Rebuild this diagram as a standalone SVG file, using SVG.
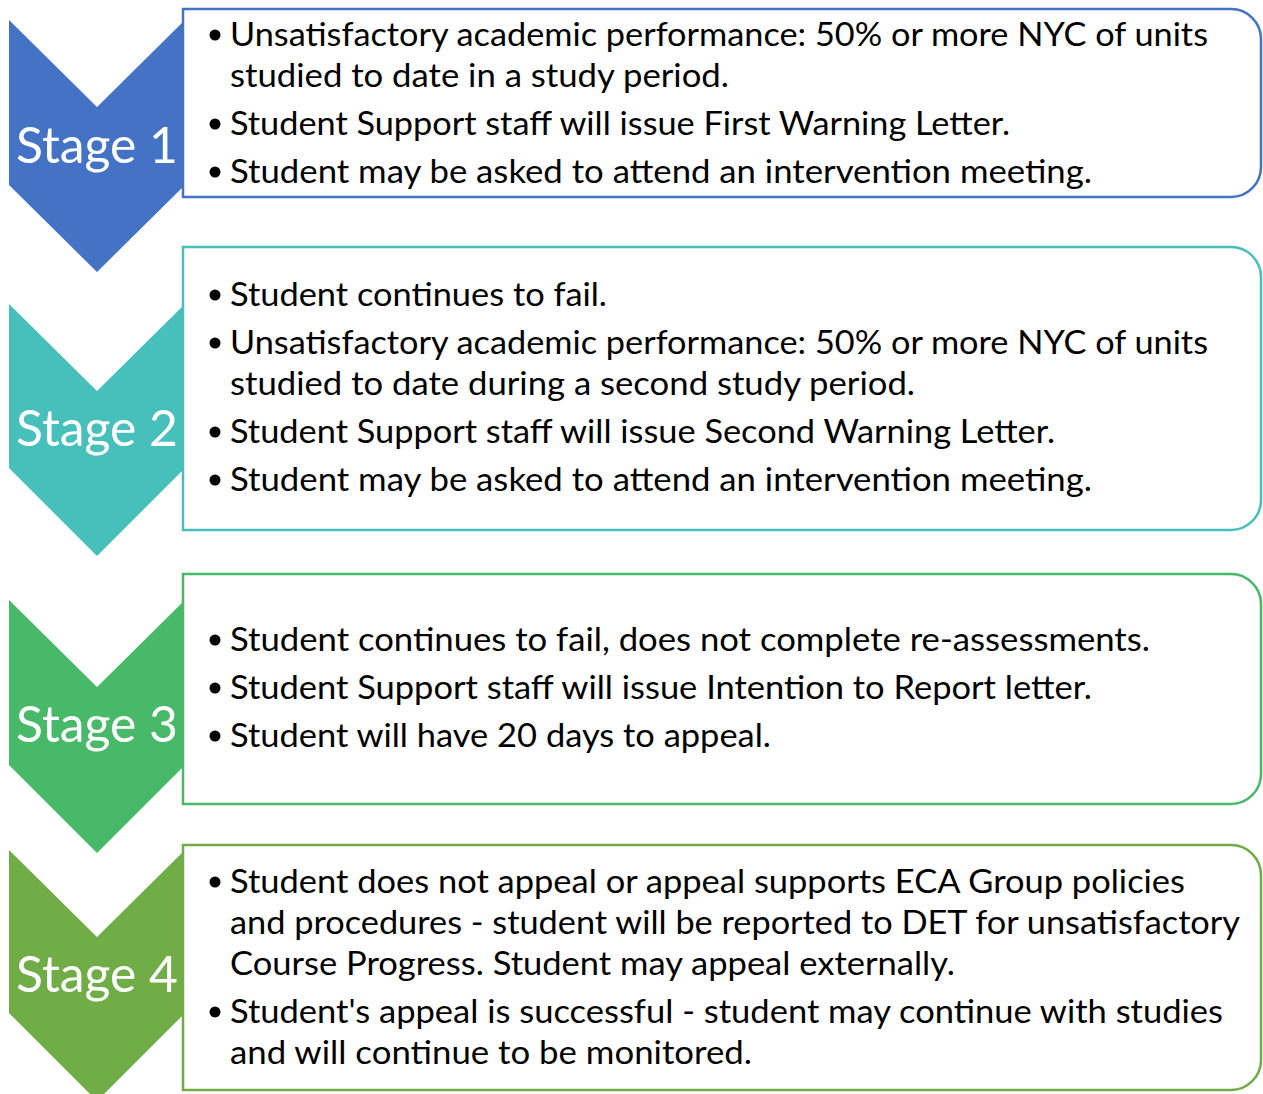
<svg xmlns="http://www.w3.org/2000/svg" width="1263" height="1094" viewBox="0 0 1263 1094">
<style>
.t{font-family:Lato,"Open Sans","Liberation Sans",sans-serif;font-size:33px;fill:#000}
.s{font-family:Lato,"Open Sans","Liberation Sans",sans-serif;font-size:50px;fill:#fff}
.box{fill:#fff;stroke-width:2.5}
.dot{fill:#000}
</style>
<rect width="1263" height="1094" fill="#fff"/>
<g id="stage1">
<polygon points="9,20 97,107 185,20 185,185 97,272 9,185" fill="#4472C4"/>
<path class="box" stroke="#4472C4" d="M183,9 H1231 A30,30 0 0 1 1261,39 V167 A30,30 0 0 1 1231,197 H183 Z"/>
<text class="s" x="16" y="163" textLength="162" lengthAdjust="spacingAndGlyphs">Stage 1</text>
<circle class="dot" cx="215" cy="35" r="5.5"/>
<text class="t" x="230" y="46" textLength="978" lengthAdjust="spacingAndGlyphs">Unsatisfactory academic performance: 50% or more NYC of units</text>
<text class="t" x="230" y="87" textLength="499" lengthAdjust="spacingAndGlyphs">studied to date in a study period.</text>
<circle class="dot" cx="215" cy="124" r="5.5"/>
<text class="t" x="230" y="135" textLength="780" lengthAdjust="spacingAndGlyphs">Student Support staff will issue First Warning Letter.</text>
<circle class="dot" cx="215" cy="172" r="5.5"/>
<text class="t" x="230" y="183" textLength="862" lengthAdjust="spacingAndGlyphs">Student may be asked to attend an intervention meeting.</text>
</g>
<g id="stage2">
<polygon points="9,304 97,391 185,304 185,468 97,556 9,468" fill="#47BFBA"/>
<path class="box" stroke="#47BFBA" d="M183,247 H1231 A30,30 0 0 1 1261,277 V500 A30,30 0 0 1 1231,530 H183 Z"/>
<text class="s" x="16" y="446" textLength="162" lengthAdjust="spacingAndGlyphs">Stage 2</text>
<circle class="dot" cx="215" cy="295" r="5.5"/>
<text class="t" x="230" y="306" textLength="377" lengthAdjust="spacingAndGlyphs">Student continues to fail.</text>
<circle class="dot" cx="215" cy="343" r="5.5"/>
<text class="t" x="230" y="354" textLength="978" lengthAdjust="spacingAndGlyphs">Unsatisfactory academic performance: 50% or more NYC of units</text>
<text class="t" x="230" y="395" textLength="685" lengthAdjust="spacingAndGlyphs">studied to date during a second study period.</text>
<circle class="dot" cx="215" cy="432" r="5.5"/>
<text class="t" x="230" y="443" textLength="825" lengthAdjust="spacingAndGlyphs">Student Support staff will issue Second Warning Letter.</text>
<circle class="dot" cx="215" cy="480" r="5.5"/>
<text class="t" x="230" y="491" textLength="862" lengthAdjust="spacingAndGlyphs">Student may be asked to attend an intervention meeting.</text>
</g>
<g id="stage3">
<polygon points="9,600 97,687 185,600 185,765 97,853 9,765" fill="#48B869"/>
<path class="box" stroke="#48B869" d="M183,574 H1231 A30,30 0 0 1 1261,604 V774 A30,30 0 0 1 1231,804 H183 Z"/>
<text class="s" x="16" y="742" textLength="162" lengthAdjust="spacingAndGlyphs">Stage 3</text>
<circle class="dot" cx="215" cy="640" r="5.5"/>
<text class="t" x="230" y="651" textLength="920" lengthAdjust="spacingAndGlyphs">Student continues to fail, does not complete re-assessments.</text>
<circle class="dot" cx="215" cy="688" r="5.5"/>
<text class="t" x="230" y="699" textLength="862" lengthAdjust="spacingAndGlyphs">Student Support staff will issue Intention to Report letter.</text>
<circle class="dot" cx="215" cy="736" r="5.5"/>
<text class="t" x="230" y="747" textLength="541" lengthAdjust="spacingAndGlyphs">Student will have 20 days to appeal.</text>
</g>
<g id="stage4">
<polygon points="9,850 97,937 185,850 185,1013 97,1101 9,1013" fill="#70AD47"/>
<path class="box" stroke="#70AD47" d="M183,845 H1231 A30,30 0 0 1 1261,875 V1060 A30,30 0 0 1 1231,1090 H183 Z"/>
<text class="s" x="16" y="992" textLength="162" lengthAdjust="spacingAndGlyphs">Stage 4</text>
<circle class="dot" cx="215" cy="882" r="5.5"/>
<text class="t" x="230" y="893" textLength="955" lengthAdjust="spacingAndGlyphs">Student does not appeal or appeal supports ECA Group policies</text>
<text class="t" x="230" y="934" textLength="1010" lengthAdjust="spacingAndGlyphs">and procedures - student will be reported to DET for unsatisfactory</text>
<text class="t" x="230" y="975" textLength="725" lengthAdjust="spacingAndGlyphs">Course Progress. Student may appeal externally.</text>
<circle class="dot" cx="215" cy="1012" r="5.5"/>
<text class="t" x="230" y="1023" textLength="993" lengthAdjust="spacingAndGlyphs">Student's appeal is successful - student may continue with studies</text>
<text class="t" x="230" y="1064" textLength="522" lengthAdjust="spacingAndGlyphs">and will continue to be monitored.</text>
</g>
<g id="connectors"/>
</svg>
